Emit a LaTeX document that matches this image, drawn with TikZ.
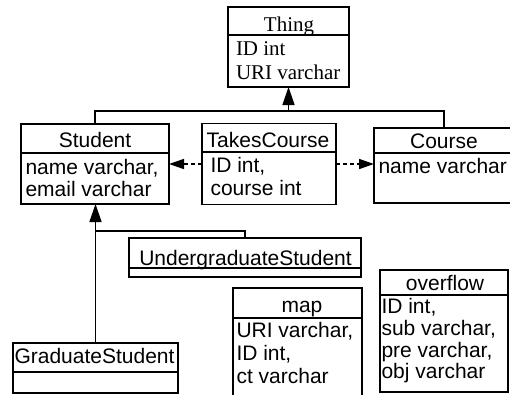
\documentclass[tikz,border=0pt]{standalone}
\usepackage{fontspec}
\setmainfont{Liberation Serif}
\setsansfont{Liberation Sans}
\usetikzlibrary{arrows.meta}
\begin{document}
\begin{tikzpicture}[x=1pt,y=-1pt,line width=1.5pt,
  box/.style={draw,line width=1.5pt,inner sep=0pt,outer sep=0pt},
  sf/.style={font=\fontsize{21}{24}\selectfont\sffamily,inner sep=0pt,outer sep=0pt},
  sr/.style={font=\fontsize{21}{24}\selectfont\rmfamily,inner sep=0pt,outer sep=0pt},
  inh/.style={-{Triangle[length=18pt,width=12pt]},line width=1.5pt},
  dep/.style={-{Triangle[length=15pt,width=10pt]},line width=1.5pt,dash pattern=on 4pt off 3pt}]
\useasboundingbox (0,0) rectangle (510,394);
% boxes
\node[box,minimum width=121pt,minimum height=80pt] (thing) at (288.5,47) {};
\node[box,minimum width=148pt,minimum height=80pt] (student) at (95,164) {};
\node[box,minimum width=134pt,minimum height=81pt] (tc) at (269,164) {};
\node[box,minimum width=180pt,minimum height=75pt] (course) at (464,165.5) {};
\node[box,minimum width=232pt,minimum height=39pt] (ugrad) at (245,257.5) {};
\node[box,minimum width=165pt,minimum height=50pt] (grad) at (95.5,368) {};
\node[box,minimum width=129pt,minimum height=112pt] (map) at (297.5,344) {};
\node[box,minimum width=128pt,minimum height=122pt] (ovf) at (444,331) {};
% header lines
\draw (thing.west |- 0,35) -- (thing.east |- 0,35);
\draw (student.west |- 0,153) -- (student.east |- 0,153);
\draw (tc.west |- 0,152) -- (tc.east |- 0,152);
\draw (course.west |- 0,153) -- (course.east |- 0,153);
\draw (ugrad.west |- 0,268) -- (ugrad.east |- 0,268);
\draw (grad.west |- 0,372) -- (grad.east |- 0,372);
\draw (map.west |- 0,318) -- (map.east |- 0,318);
\draw (ovf.west |- 0,295) -- (ovf.east |- 0,295);
% texts
\node[sr,anchor=base] (thingT) at (289,31) {Thing};
\node[sr,anchor=base west] (thingA1) at (236,55) {ID int};
\node[sr,anchor=base west] (thingA2) at (236,79) {URI varchar};
\node[sf,anchor=base] (studentT) at (95,147) {Student};
\node[sf,anchor=base west] (studentA1) at (25.5,174) {name varchar,};
\node[sf,anchor=base west] (studentA2) at (25.5,196) {email varchar};
\node[sf,anchor=base] (tcT) at (268,147) {TakesCourse};
\node[sf,anchor=base west] (tcA1) at (210.5,172) {ID int,};
\node[sf,anchor=base west] (tcA2) at (210.5,195) {course int};
\node[sf,anchor=base] (courseT) at (444,148) {Course};
\node[sf,anchor=base west] (courseA1) at (378.5,173) {name varchar};
\node[sf,anchor=base] (ugradT) at (245.5,265) {UndergraduateStudent};
\node[sf,anchor=base] (gradT) at (94.5,363) {GraduateStudent};
\node[sf,anchor=base] (mapT) at (302,312) {map};
\node[sf,anchor=base west] (mapA1) at (236.5,337) {URI varchar,};
\node[sf,anchor=base west] (mapA2) at (236.5,360) {ID int,};
\node[sf,anchor=base west] (mapA3) at (236.5,383) {ct varchar};
\node[sf,anchor=base] (ovfT) at (445,290) {overflow};
\node[sf,anchor=base west] (ovfA1) at (381.5,313) {ID int,};
\node[sf,anchor=base west] (ovfA2) at (381.5,335) {sub varchar,};
\node[sf,anchor=base west] (ovfA3) at (381.5,357) {pre varchar,};
\node[sf,anchor=base west] (ovfA4) at (381.5,378) {obj varchar};
% connectors
\coordinate (j1) at (288.5,111);
\coordinate (j2) at (95.5,231);
\draw[inh] (student.north) |- (j1) -- (thing.south);
\draw (courseT |- course.north) |- (j1);
\draw[inh] (grad.north) -- (grad.north |- student.south);
\draw (ugrad.north) |- (j2);
\draw[dep] (tc.west) -- (tc.west -| student.east);
\draw[dep] (tc.east) -- (tc.east -| course.west);
\end{tikzpicture}
\end{document}
